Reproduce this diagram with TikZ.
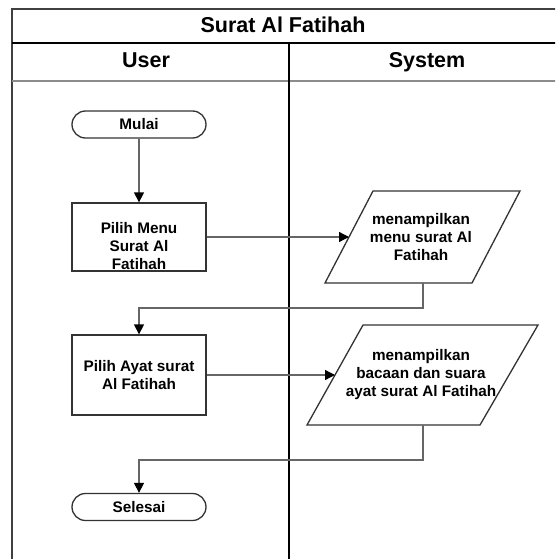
\documentclass[tikz,border=0pt]{standalone}
\usepackage{fontspec}
\setmainfont{Liberation Sans}
\usetikzlibrary{arrows.meta}
\definecolor{conn}{HTML}{666666}
\definecolor{hdrline}{HTML}{8C8C8C}
\tikzset{
  body/.style={font=\fontsize{15.3}{18}\selectfont\bfseries, align=center, inner sep=0pt},
  head/.style={font=\fontsize{21.5}{24}\selectfont\bfseries, inner sep=0pt, anchor=base},
  term/.style={draw=black!80, line width=1.3pt, rounded corners=13.5pt, minimum width=134pt, minimum height=27pt, inner sep=0pt},
  procbox/.style={draw=black!80, line width=1.3pt, minimum width=134pt, inner sep=0pt},
  ioshape/.style={draw=black!80, line width=1.3pt, line join=miter},
  flow/.style={draw=conn, line width=1.3pt, -{Triangle[length=10pt,width=10pt,color=black]}},
}
\begin{document}
\begin{tikzpicture}[x=1pt,y=-1pt]
\useasboundingbox (0,0) rectangle (555,559);
\fill[white] (0,0) rectangle (555,559);
\begin{scope}
\clip (0,0) rectangle (555,559);
% pool frame
\draw[line width=1.3pt, draw=black!75] (12,562) -- (12,9) -- (560,9);
\draw[line width=1.6pt, draw=black] (12,43) -- (560,43);
\draw[line width=1.3pt, draw=hdrline] (12,81) -- (560,81);
\draw[line width=1.6pt, draw=black] (289,43) -- (289,562);
\end{scope}
\node[head] (title) at (283,33) {Surat Al Fatihah};
\node[head] (user) at (146,68) {User};
\node[head] (system) at (427,68) {System};

% user lane
\node[term] (mulai) at (139,124.5) {};
\node[body] at (139,124.5) {Mulai};
\node[procbox, minimum height=68pt] (menu) at (139,237) {};
\node[body] (menutxt) at (139,246) {Pilih Menu\\Surat Al\\Fatihah};
\node[procbox, minimum height=80pt] (ayat) at (139,375) {};
\node[body] (ayattxt) at (139,375) {Pilih Ayat surat\\Al Fatihah};
\node[term] (selesai) at (139,507) {};
\node[body] at (139,507) {Selesai};

% system lane
\draw[ioshape] (373,191) -- (520,191) -- (472,283) -- (325,283) -- cycle;
\coordinate (p1left) at (349,237);
\coordinate (p1bot) at (423,283);
\node[body] (p1txt) at (421,237) {menampilkan\\menu surat Al\\Fatihah};
\draw[ioshape] (363,325) -- (538,325) -- (480,425) -- (307,425) -- cycle;
\coordinate (p2left) at (335,375);
\coordinate (p2bot) at (423,425);
\node[body] (p2txt) at (421,375) {menampilkan\\bacaan dan suara\\ayat surat Al Fatihah};

% connectors
\draw[flow] (mulai.south) -- (menu.north);
\draw[flow] (menu.east) -- (p1left);
\draw[flow] (p1bot) -- (423,308) -| (ayat.north);
\draw[flow] (ayat.east) -- (p2left);
\draw[flow] (p2bot) -- (423,460) -| (selesai.north);
\end{tikzpicture}
\end{document}
